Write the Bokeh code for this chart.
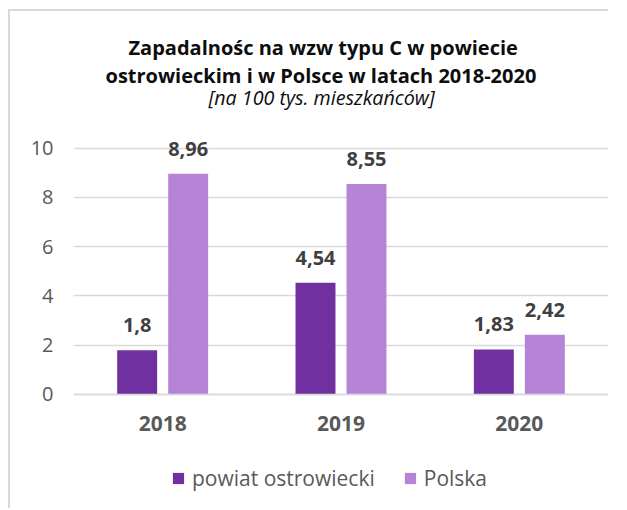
from bokeh.plotting import figure
from bokeh.models import (ColumnDataSource, FactorRange, FixedTicker, Legend,
                          LegendItem, Title, Range1d)
from bokeh.transform import dodge
from bokeh.embed import file_html
from bokeh.resources import INLINE

# ---- data ----
years = ["2018", "2019", "2020"]
powiat = [1.8, 4.54, 1.83]
polska = [8.96, 8.55, 2.42]
series_names = ["powiat ostrowiecki", "Polska"]
y_ticks = [0, 2, 4, 6, 8, 10]
title_line1 = "Zapadalnośc na wzw typu C w powiecie"
title_line2 = "ostrowieckim i w Polsce w latach 2018-2020"
subtitle = "[na 100 tys. mieszkańców]"

DARK = "#7030A0"
LIGHT = "#B584D6"
FONT = "Open Sans"
Y_TOP = 10.8      # headroom above the last tick (layout only)
Y_BOTTOM = -4.55  # room below the axis for labels + legend (layout only)

def fmt(v):
    return str(v).replace(".", ",")

src = ColumnDataSource(dict(
    years=years,
    powiat=powiat,
    polska=polska,
    powiat_lbl=[fmt(v) for v in powiat],
    polska_lbl=[fmt(v) for v in polska],
))

p = figure(
    x_range=FactorRange(factors=years, range_padding=0),
    y_range=Range1d(Y_BOTTOM, Y_TOP),
    width=600, height=499,
    output_backend="svg", toolbar_location=None,
    min_border_left=63, min_border_right=2,
    min_border_top=117, min_border_bottom=4,
    background_fill_color="white", border_fill_color="white",
    outline_line_color=None,
)
p.title.visible = False
p.styles = {"margin-left": "8px", "margin-top": "9px",
            "border-top": "2px solid #D9D9D9", "border-left": "2px solid #D9D9D9"}

# titles (added inner-most first)
p.add_layout(Title(text=" ", text_font=FONT, text_font_size="10px",
                   standoff=6.3), "above")
p.add_layout(Title(text=subtitle, text_font=FONT, text_font_size="19.7px",
                   text_font_style="italic", text_color="#0D0D0D",
                   align="left", offset=135, standoff=-8), "above")
p.add_layout(Title(text=title_line2, text_font=FONT, text_font_size="20px",
                   text_font_style="bold", text_color="#0D0D0D",
                   align="left", offset=32, standoff=-7.6), "above")
p.add_layout(Title(text=title_line1, text_font=FONT, text_font_size="20px",
                   text_font_style="bold", text_color="#0D0D0D",
                   align="left", offset=55, standoff=7.3), "above")

off = 0.143
w = 0.224
r1 = p.vbar(x=dodge("years", -off, range=p.x_range), top="powiat", width=w,
            source=src, fill_color=DARK, line_color=None)
r2 = p.vbar(x=dodge("years", off, range=p.x_range), top="polska", width=w,
            source=src, fill_color=LIGHT, line_color=None)

for xo, col, ycol in ((-off, "powiat_lbl", "powiat"), (off, "polska_lbl", "polska")):
    p.text(x=dodge("years", xo, range=p.x_range), y=ycol, text=col, source=src,
           text_align="center", text_baseline="alphabetic", y_offset=-25,
           text_font_size="20px", text_font_style="bold", text_color="#404040",
           text_font={"value": FONT})

# axes
p.yaxis.ticker = FixedTicker(ticks=y_ticks)
p.yaxis.axis_line_color = None
p.yaxis.major_tick_line_color = None
p.yaxis.minor_tick_line_color = None
p.yaxis.major_tick_out = 0
p.yaxis.major_label_standoff = 20
p.yaxis.major_label_text_font = FONT
p.yaxis.major_label_text_font_size = "20px"
p.yaxis.major_label_text_color = "#595959"

p.xaxis.fixed_location = 0
p.xaxis.axis_line_color = "#D9D9D9"
p.xaxis.axis_line_width = 1.5
p.xaxis.major_tick_line_color = None
p.xaxis.minor_tick_line_color = None
p.xaxis.major_tick_out = 0
p.xaxis.major_label_standoff = 22
p.xaxis.major_label_text_font = FONT
p.xaxis.major_label_text_font_size = "21px"
p.xaxis.major_label_text_font_style = "bold"
p.xaxis.major_label_text_color = "#595959"

p.xgrid.grid_line_color = None
p.ygrid.grid_line_color = "#D9D9D9"
p.ygrid.grid_line_width = 1.5

legend = Legend(
    items=[LegendItem(label=series_names[0], renderers=[r1]),
           LegendItem(label=series_names[1], renderers=[r2])],
    location=(98, 14), orientation="horizontal",
    glyph_width=14, glyph_height=14, label_standoff=7, spacing=28,
    padding=0, margin=0, border_line_color=None, background_fill_alpha=0,
    label_text_font=FONT, label_text_font_size="21px", label_text_color="#595959",
)
p.add_layout(legend, "center")

open("out.html", "w").write(file_html(p, INLINE))
